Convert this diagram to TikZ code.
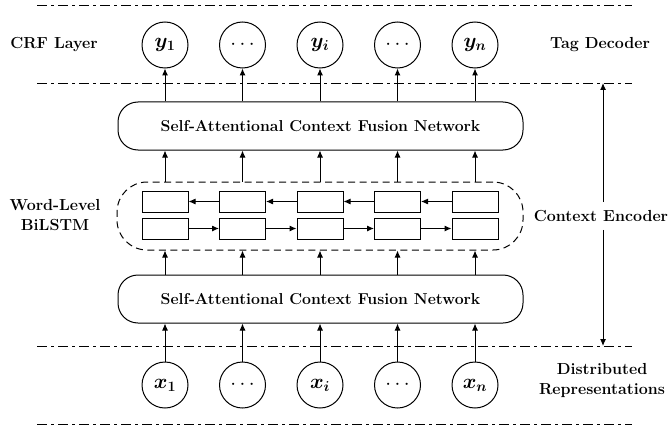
\documentclass[tikz,border=0pt]{standalone}
\usepackage{bm}
\usetikzlibrary{positioning, arrows.meta}
\tikzset{tok/.style={circle, draw, line width=1pt, minimum size=46pt, inner sep=0pt, font=\fontsize{20}{24}\selectfont}}
\tikzset{fusion/.style={draw, rounded corners=20pt, line width=1pt, minimum width=405pt, minimum height=48pt, font=\fontsize{15.8}{18}\selectfont\bfseries}}
\tikzset{cell/.style={draw, line width=1pt, minimum width=46pt, minimum height=21pt, inner sep=0pt}}
\tikzset{layer/.style={font=\fontsize{16}{20}\selectfont\bfseries, align=center}}
\tikzset{sep/.style={line width=.9pt, dash pattern=on 10pt off 4pt on 3pt off 4pt}}
\tikzset{edge/.style={-{Latex[length=7pt, width=6pt]}, line width=1pt}}

\begin{document}
\begin{tikzpicture}[x=1pt, y=-1pt]
  \useasboundingbox (0,0) rectangle (668,433);

  \foreach \k/\y in {1/5,2/83,3/346,4/424} {
    \coordinate (sl\k) at (37,\y);
    \coordinate (sr\k) at (632,\y);
    \draw[sep] (sl\k) -- (sr\k);
  }

  \node[fusion] (top) at (320.5,126) {Self-Attentional Context Fusion Network};
  \node[fusion] (bot) at (320.5,299) {Self-Attentional Context Fusion Network};
  \node[draw, dash pattern=on 7pt off 4.5pt, line width=1pt, rounded corners=30pt, minimum width=406pt, minimum height=68pt] (lstm) at (320,216) {};

  \foreach \i/\x/\ylab/\xlab in {1/165/\bm{y_1}/\bm{x_1}, 2/242.5/\cdots/\cdots, 3/320/\bm{y_i}/\bm{x_i}, 4/397.5/\cdots/\cdots, 5/475/\bm{y_n}/\bm{x_n}} {
    \node[tok] (y\i) at (\x,45) {$\ylab$};
    \node[tok] (x\i) at (\x,385) {$\xlab$};
    \node[cell] (b\i) at (\x,201.5) {};
    \node[cell] (f\i) at (\x,228.5) {};

    \draw[edge] (x\i) -- (x\i |- bot.south);
    \draw[edge] (bot.north -| x\i) -- (lstm.south -| x\i);
    \draw[edge] (lstm.north -| y\i) -- (top.south -| y\i);
    \draw[edge] (top.north -| y\i) -- (y\i);
  }
  \foreach \i/\j in {1/2,2/3,3/4,4/5} {
    \draw[edge] (b\j) -- (b\i);
    \draw[edge] (f\i) -- (f\j);
  }

  \node[layer] (crf) at (54,45) {CRF Layer};
  \node[layer] (wl) at (55,215) {Word-Level\\BiLSTM};
  \node[layer] (tag) at (600,45) {Tag Decoder};
  \node[layer, inner ysep=8pt] (enc) at (601,216) {Context Encoder};
  \node[layer] (dist) at (602,380) {Distributed\\Representations};

  \coordinate (ea) at (603,83);
  \coordinate (eb) at (603,346);
  \draw[edge] (enc.north -| ea) -- (ea);
  \draw[edge] (enc.south -| eb) -- (eb);
\end{tikzpicture}
\end{document}
